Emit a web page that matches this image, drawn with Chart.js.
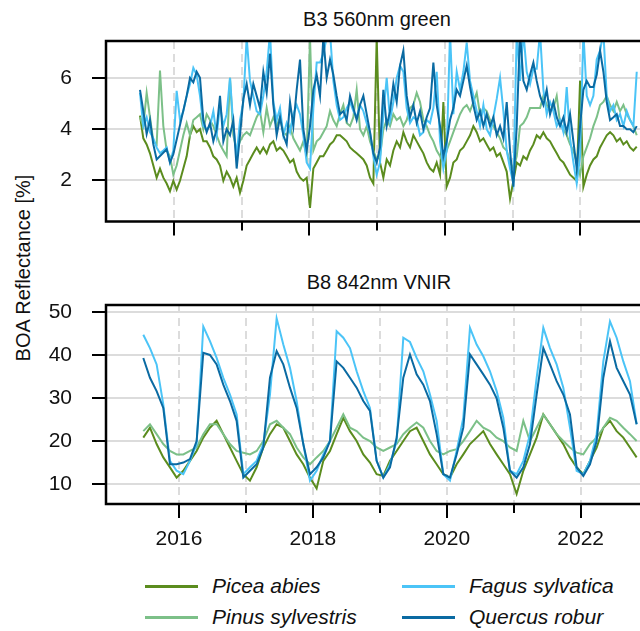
<!DOCTYPE html>
<html>
<head>
<meta charset="utf-8">
<script src="https://cdn.jsdelivr.net/npm/chart.js@4"></script>
<style>
  body { margin: 0; background: #fff; }
  #fig { position: relative; width: 640px; height: 631px; overflow: hidden; background: #fff;
         font-family: "Liberation Sans", Arial, sans-serif; color: #111; }
  canvas { position: absolute; left: 0; }
  .title { position: absolute; font-size: 20px; white-space: nowrap; transform: translate(-50%, -50%); }
  .ylab { position: absolute; left: 23px; top: 268px; font-size: 20px; white-space: nowrap;
          transform: translate(-50%, -50%) rotate(-90deg); }
  .leg { position: absolute; font-size: 21px; font-style: italic; white-space: nowrap; transform: translateY(-50%); }
  .swatch { position: absolute; width: 53px; height: 2.5px; }
</style>
</head>
<body>
<div id="fig">
  <div class="title" style="left:377px; top:19px">B3 560nm green</div>
  <div class="title" style="left:379px; top:282px">B8 842nm VNIR</div>
  <div class="ylab">BOA Reflectance [%]</div>
  <canvas id="b3" width="640" height="260" style="top:0"></canvas>
  <canvas id="b8" width="640" height="300" style="top:260px"></canvas>
</div>
<script>
const species = ["Picea abies", "Pinus sylvestris", "Fagus sylvatica", "Quercus robur"];
const colors = ["#5b8c1e", "#7cc088", "#4bc4f7", "#0a6aa2"];
const yearTicks = [2016, 2017, 2018, 2019, 2020, 2021, 2022];

// B3 green, one value every ~18 days from mid 2015
const b3Start = 2015.498, b3Step = 0.04924;
const piceaB3 = [
  4.52, 3.63, 3.39, 3.04, 2.56, 2.08, 2.44, 2.08, 1.85, 1.55,
  1.96, 1.61, 1.96, 2.44, 2.92, 3.75, 4.11, 3.87, 3.99, 3.51,
  3.51, 3.27, 2.92, 2.80, 2.56, 1.96, 2.32, 2.08, 1.73, 2.08,
  1.49, 1.96, 2.56, 2.80, 3.04, 3.27, 3.04, 3.27, 3.04, 3.39,
  3.51, 3.15, 3.27, 3.15, 2.92, 2.68, 2.80, 2.32, 2.08, 1.96,
  2.08, 0.89, 2.44, 2.68, 2.92, 2.92, 3.15, 3.39, 3.51, 3.75,
  3.75, 3.63, 3.51, 3.27, 3.15, 3.04, 2.92, 2.80, 2.56, 2.08,
  1.85, 7.60, 2.68, 2.08, 2.80, 2.56, 3.15, 3.51, 3.27, 3.87,
  3.51, 3.27, 3.75, 3.51, 3.27, 3.04, 2.68, 2.44, 2.32, 2.68,
  2.20, 5.06, 1.73, 2.08, 2.68, 2.80, 3.15, 3.27, 3.51, 3.75,
  4.11, 3.87, 3.51, 3.63, 3.39, 3.15, 3.27, 2.92, 3.04, 2.68,
  2.32, 1.25, 1.96, 2.68, 2.56, 2.92, 2.80, 3.15, 3.39, 3.75,
  3.63, 3.87, 3.63, 3.51, 3.27, 3.04, 2.80, 2.68, 2.44, 2.20,
  2.08, 1.96, 5.89, 1.73, 2.20, 2.56, 2.80, 2.92, 3.27, 3.51,
  3.75, 3.87, 3.75, 3.51, 3.63, 3.39, 3.51, 3.27, 3.15, 3.30
];
const pinusB3 = [
  4.46, 4.11, 5.42, 4.46, 3.51, 3.39, 6.30, 4.11, 3.15, 2.92,
  2.20, 2.56, 3.15, 3.75, 4.23, 3.75, 4.35, 4.46, 4.58, 3.99,
  4.58, 4.35, 4.11, 3.75, 3.39, 3.15, 2.92, 6.01, 3.75, 3.15,
  3.51, 3.75, 3.87, 3.75, 4.11, 4.46, 4.70, 3.87, 4.82, 4.11,
  4.46, 4.11, 4.46, 3.87, 3.75, 4.11, 3.63, 3.39, 3.15, 3.51,
  2.92, 7.60, 3.15, 3.51, 3.63, 3.87, 4.11, 4.70, 4.35, 4.11,
  4.58, 4.94, 4.23, 4.11, 4.46, 5.54, 3.99, 3.75, 4.11, 3.51,
  3.15, 2.80, 2.92, 3.99, 4.35, 4.11, 4.58, 4.35, 4.46, 4.11,
  4.35, 4.82, 4.94, 5.42, 5.06, 4.35, 4.11, 3.75, 3.51, 3.15,
  2.92, 2.68, 3.15, 3.51, 3.87, 4.23, 4.58, 4.82, 4.94, 4.70,
  5.06, 5.42, 4.58, 4.82, 4.70, 4.35, 4.11, 3.87, 3.63, 3.27,
  3.15, 2.68, 2.44, 2.92, 4.11, 4.23, 4.46, 4.82, 4.82, 4.82,
  4.82, 5.30, 4.94, 4.70, 4.82, 5.30, 4.23, 3.99, 3.75, 3.39,
  3.15, 2.68, 2.20, 2.92, 3.27, 3.63, 4.11, 4.46, 4.94, 5.06,
  5.30, 4.94, 4.70, 5.06, 4.70, 4.94, 4.58, 4.35, 4.11, 3.75
];
const fagusB3 = [
  5.42, 4.11, 4.46, 3.87, 3.63, 3.27, 3.04, 3.15, 3.27, 2.68,
  3.15, 5.50, 4.35, 4.70, 5.30, 5.77, 6.40, 6.13, 5.30, 4.11,
  3.99, 4.11, 4.70, 3.75, 4.94, 4.11, 4.58, 6.01, 4.11, 2.92,
  4.35, 5.06, 7.60, 5.89, 5.30, 4.70, 4.58, 5.30, 6.25, 7.80,
  5.06, 4.35, 4.82, 3.75, 4.23, 3.87, 4.58, 4.94, 4.58, 3.75,
  2.68, 2.44, 4.82, 6.61, 6.61, 6.96, 7.60, 7.80, 5.89, 4.94,
  4.35, 4.46, 4.82, 5.06, 4.70, 4.46, 4.94, 4.70, 4.23, 3.87,
  2.92, 2.20, 2.68, 4.58, 6.01, 4.35, 5.06, 6.01, 6.49, 6.25,
  4.82, 4.23, 4.46, 4.35, 3.75, 3.87, 4.35, 4.23, 4.82, 6.25,
  3.51, 2.44, 3.15, 7.80, 4.58, 6.25, 5.54, 6.25, 7.40, 5.89,
  5.30, 4.70, 4.11, 4.94, 3.99, 3.75, 4.46, 5.18, 6.01, 4.70,
  3.15, 2.44, 1.85, 7.80, 5.89, 7.80, 6.25, 5.77, 6.37, 6.37,
  7.80, 5.54, 4.58, 5.06, 4.70, 4.11, 4.35, 3.87, 5.65, 3.63,
  2.68, 1.85, 2.92, 7.80, 5.30, 4.94, 5.30, 6.73, 7.08, 7.80,
  5.30, 4.70, 4.94, 4.35, 4.58, 4.11, 4.70, 4.35, 4.11, 6.25
];
const quercusB3 = [
  5.54, 4.70, 3.80, 4.35, 3.39, 2.80, null, null, 3.20, 2.68,
  3.00, null, null, null, 5.30, 6.01, 5.83, 6.25, 6.01, 4.35,
  3.87, 4.23, 3.51, 3.99, 5.30, 3.51, 3.99, 3.75, 4.35, 2.44,
  3.75, 5.18, 5.77, 4.94, 5.77, 5.30, 4.82, 6.25, 5.42, 6.96,
  4.94, 3.75, 4.46, 3.75, 3.39, 5.06, 4.11, 5.54, 6.73, 3.99,
  3.15, 4.11, 5.54, 6.13, 5.30, 7.60, 6.01, 6.73, 6.13, 5.30,
  4.58, 4.70, 4.35, 5.30, 4.82, 4.35, 4.94, 5.30, 4.58, 3.87,
  3.04, 2.68, 3.27, 5.54, 4.11, 4.70, 5.77, 5.06, 6.49, 7.08,
  5.30, 4.46, 4.94, 4.23, 4.70, 3.99, 4.46, 4.82, 6.61, 4.94,
  4.11, 2.92, 3.51, 4.35, 4.82, 5.54, 5.30, 5.89, 6.49, 5.65,
  4.94, 4.35, 4.70, 4.11, 4.58, 4.11, 4.46, 3.75, 4.11, 3.63,
  5.06, 3.15, 1.73, 4.11, 7.80, 5.89, 5.54, 6.13, 6.61, 5.89,
  5.30, 4.94, 5.54, 4.58, 5.06, 4.46, 4.11, 4.46, 3.87, 4.58,
  3.51, 2.44, 4.11, 5.54, 5.89, 5.65, 5.65, 6.13, 7.08, 6.25,
  5.06, 4.35, 4.46, 4.58, 4.11, 4.11, 3.99, 3.99, 3.87, 4.11
];

// B8 VNIR, one value every ~36 days
const b8Start = 2015.467, b8Step = 0.09958;
const piceaB8 = [
  20.8, 23.1, 19.3, 16.2, 13.9, 11.5, 13.1, 15.4, 17.7, 20.8,
  23.1, 24.7, 21.6, 18.5, 15.4, 12.3, 10.8, 13.9, 18.5, 21.6,
  23.9, 23.1, 20.0, 16.9, 14.6, 11.5, 9.0, 15.4, 17.7, 21.6,
  25.4, 22.3, 20.0, 16.9, 15.0, 12.3, 11.9, 15.4, 17.7, 20.0,
  22.3, 23.1, 20.0, 16.9, 14.6, 12.3, 11.5, 14.6, 16.9, 19.3,
  20.8, 22.3, 19.3, 16.9, 14.6, 12.3, 7.7, 13.1, 16.9, 20.8,
  26.2, 23.9, 21.6, 19.3, 16.2, 13.9, 12.3, 15.4, 18.5, 23.1,
  24.7, 22.3, 20.8, 18.5, 16.2
];
const pinusB8 = [
  22.3, 23.9, 21.6, 19.3, 17.7, 16.9, 16.9, 17.7, 18.5, 21.6,
  23.9, 23.9, 21.6, 19.3, 17.7, 17.3, 16.9, 17.7, 20.0, 23.9,
  24.7, 23.1, 21.6, 18.5, 16.2, 14.6, 16.2, 17.7, 20.0, 23.1,
  26.2, 23.1, 22.3, 20.8, 20.0, 18.5, 17.7, 18.5, 19.3, 21.6,
  23.1, 24.3, 23.1, 20.0, 17.7, 16.9, 17.7, 18.1, 20.0, 22.3,
  24.7, 23.1, 22.3, 20.8, 20.0, 18.5, 17.7, 24.7, 20.0, 23.1,
  26.2, 23.9, 21.6, 20.0, 18.5, 17.3, 16.9, 19.3, 20.8, 23.1,
  25.4, 24.7, 23.1, 21.6, 20.0
];
const fagusB8 = [
  44.7, 41.6, 37.8, 28.5, 15.4, 13.1, 12.3, 15.4, 19.3, 46.6,
  43.2, 39.3, 34.7, 30.8, 26.2, 12.3, 13.9, 15.4, 19.3, 30.8,
  48.5, 42.4, 37.0, 29.3, 19.3, 10.8, 13.1, 16.9, 20.0, 45.5,
  44.0, 41.6, 36.2, 31.6, 27.7, 15.4, 11.5, 14.6, 20.0, 44.0,
  43.0, 39.3, 36.2, 30.8, 24.7, 12.3, 10.8, 17.7, 25.4, 46.3,
  42.4, 39.7, 36.2, 31.6, 25.4, 13.1, 12.3, 15.4, 21.6, 34.7,
  46.3, 41.6, 37.8, 32.4, 23.1, 13.1, 12.3, 15.4, 21.6, 38.5,
  47.8, 44.0, 38.5, 33.9, 23.9
];
const quercusB8 = [
  39.3, 34.7, 31.6, 27.7, 14.6, 14.6, 15.0, 15.8, 20.0, 40.5,
  40.0, 37.8, 33.1, 29.3, 24.7, 11.5, 13.1, 14.6, 18.5, 34.7,
  40.9, 37.8, 32.4, 27.7, 19.3, 12.3, 13.9, 16.2, 20.0, 38.5,
  37.0, 34.7, 32.4, 29.3, 27.0, 15.4, 11.5, 13.9, 20.8, 34.7,
  40.1, 35.5, 33.1, 29.3, 21.6, 12.3, 11.5, 16.9, 23.1, 40.1,
  37.8, 35.5, 33.1, 29.9, 23.1, 13.1, 11.5, 13.9, 19.3, 30.8,
  41.6, 37.8, 33.9, 30.8, 26.2, 13.9, 11.9, 14.6, 20.0, 34.7,
  43.2, 37.0, 33.9, 30.8, 23.9
];

const b3Ticks = [2, 4, 6];
const b8Ticks = [10, 20, 30, 40, 50];

const fontFamily = '"Liberation Sans", Arial, sans-serif';

// grid under the lines, black frame and tick marks over them
const framePlugin = {
  id: "frame",
  beforeDatasetsDraw(chart) {
    const { ctx, chartArea: a, scales: { x, y } } = chart;
    ctx.save();
    ctx.strokeStyle = "#dcdcdc";
    ctx.lineWidth = 2;
    y.ticks.forEach((t) => {
      const p = Math.round(y.getPixelForValue(t.value));
      ctx.beginPath(); ctx.moveTo(a.left, p); ctx.lineTo(a.right, p); ctx.stroke();
    });
    ctx.setLineDash([8, 5]);
    x.ticks.forEach((t) => {
      const p = Math.round(x.getPixelForValue(t.value));
      ctx.beginPath(); ctx.moveTo(p, a.top); ctx.lineTo(p, a.bottom); ctx.stroke();
    });
    ctx.restore();
  },
  afterDatasetsDraw(chart) {
    const { ctx, chartArea: a, scales: { x, y } } = chart;
    ctx.save();
    ctx.strokeStyle = "#000";
    ctx.lineWidth = 2.5;
    ctx.beginPath();
    ctx.moveTo(a.right + 2, a.top); ctx.lineTo(a.left, a.top);
    ctx.lineTo(a.left, a.bottom); ctx.lineTo(a.right + 2, a.bottom);
    ctx.stroke();
    ctx.lineWidth = 2;
    y.ticks.forEach((t) => {
      const p = Math.round(y.getPixelForValue(t.value));
      ctx.beginPath(); ctx.moveTo(a.left - 14, p); ctx.lineTo(a.left, p); ctx.stroke();
    });
    x.ticks.forEach((t) => {
      const p = Math.round(x.getPixelForValue(t.value));
      const len = t.value % 2 === 0 ? 14 : 9;
      ctx.beginPath(); ctx.moveTo(p, a.bottom); ctx.lineTo(p, a.bottom + len); ctx.stroke();
    });
    ctx.restore();
  }
};

function makePanel(id, p) {
  return new Chart(document.getElementById(id), {
    type: "line",
    data: {
      datasets: species.map((name, i) => ({
        label: name,
        data: p.series[i].map((v, j) => ({ x: p.start + j * p.step, y: v })),
        borderColor: colors[i],
        borderWidth: 2,
        pointRadius: 0,
        tension: 0,
        spanGaps: true,
        order: 3 - i
      }))
    },
    options: {
      responsive: false,
      animation: false,
      devicePixelRatio: 1,
      layout: { padding: { top: p.padTop, left: 0, right: 0, bottom: 0 } },
      plugins: { legend: { display: false }, tooltip: { enabled: false } },
      scales: {
        x: {
          type: "linear",
          min: p.xMin,
          max: p.xMax,
          grid: { display: false },
          border: { display: false },
          afterBuildTicks: (s) => { s.ticks = yearTicks.map((v) => ({ value: v })); },
          afterFit: (s) => { s.height = p.xHeight; },
          ticks: {
            display: p.xLabels,
            autoSkip: false,
            maxRotation: 0,
            padding: 15,
            color: "#111",
            font: { size: 21, family: fontFamily },
            callback: (v) => (v % 2 === 0 ? String(v) : "")
          }
        },
        y: {
          min: p.yMin,
          max: p.yMax,
          grid: { display: false },
          border: { display: false },
          afterBuildTicks: (s) => { s.ticks = p.yTicks.map((v) => ({ value: v })); },
          afterFit: (s) => { s.width = 106; },
          ticks: { padding: 26, color: "#111", font: { size: 21, family: fontFamily } }
        }
      }
    },
    plugins: [framePlugin]
  });
}

makePanel("b3", {
  series: [piceaB3, pinusB3, fagusB3, quercusB3],
  start: b3Start, step: b3Step,
  xMin: 2014.996, xMax: 2022.883, yMin: 0.36, yMax: 7.46,
  yTicks: b3Ticks, padTop: 41, xHeight: 20, xLabels: false
});
makePanel("b8", {
  series: [piceaB8, pinusB8, fagusB8, quercusB8],
  start: b8Start, step: b8Step,
  xMin: 2014.91, xMax: 2022.886, yMin: 5.38, yMax: 51.6,
  yTicks: b8Ticks, padTop: 45, xHeight: 56, xLabels: true
});

// legend, two columns as in the figure
const fig = document.getElementById("fig");
const legPos = [[145, 586], [145, 617], [402, 586], [402, 617]];
species.forEach((name, i) => {
  const [lx, ly] = legPos[i];
  const sw = document.createElement("div");
  sw.className = "swatch";
  sw.style.left = lx + "px";
  sw.style.top = (ly - 1) + "px";
  sw.style.background = colors[i];
  fig.appendChild(sw);
  const tx = document.createElement("div");
  tx.className = "leg";
  tx.style.left = (lx + 67) + "px";
  tx.style.top = ly + "px";
  tx.textContent = name;
  fig.appendChild(tx);
});
</script>
</body>
</html>
